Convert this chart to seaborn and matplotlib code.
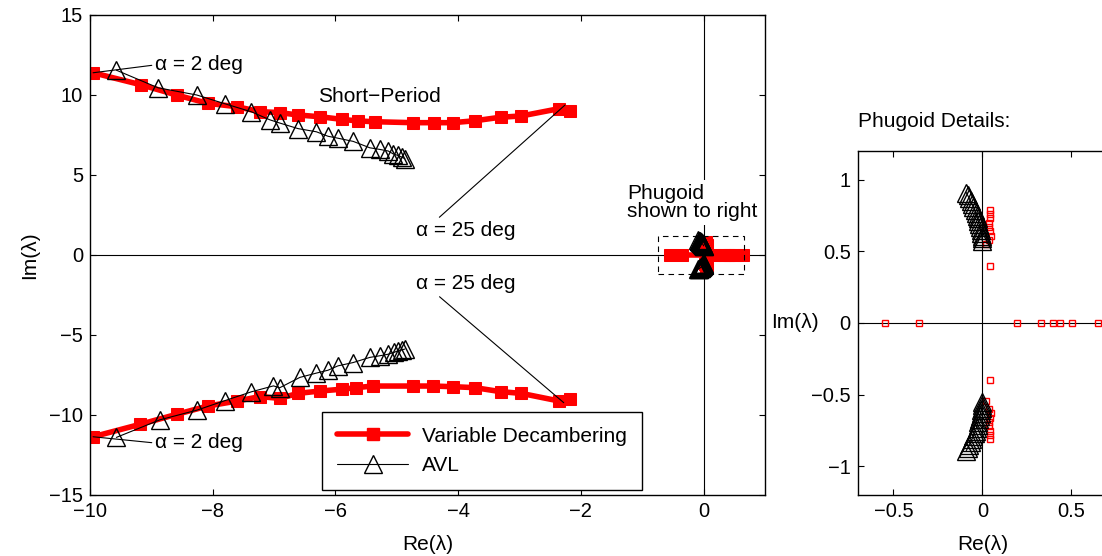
import numpy as np
import pandas as pd
import matplotlib
matplotlib.use("Agg")
import matplotlib.pyplot as plt
import matplotlib.patches as patches
from matplotlib.lines import Line2D
import seaborn as sns

# short-period roots, Variable Decambering (upper / lower branch)
vd_re_up = [-9.95, -9.17, -8.59, -8.08, -7.61, -7.23, -6.91, -6.61, -6.25, -5.90,
            -5.64, -5.36, -4.74, -4.40, -4.09, -3.73, -3.31, -2.97, -2.35, -2.18]
vd_im_up = [11.39, 10.64, 10.00, 9.48, 9.27, 8.96, 8.90, 8.75, 8.64, 8.48,
            8.38, 8.33, 8.27, 8.27, 8.27, 8.39, 8.61, 8.69, 9.15, 9.02]
vd_re_lo = [-9.95, -9.18, -8.59, -8.08, -7.61, -7.23, -6.91, -6.61, -6.25, -5.90,
            -5.66, -5.39, -4.74, -4.41, -4.09, -3.73, -3.31, -2.97, -2.35, -2.18]
vd_im_lo = [-11.36, -10.58, -9.96, -9.44, -9.13, -8.85, -8.96, -8.65, -8.50, -8.39,
            -8.29, -8.19, -8.19, -8.19, -8.23, -8.29, -8.54, -8.65, -9.13, -9.02]

# short-period roots, AVL
avl_re_up = [-9.57, -8.89, -8.26, -7.80, -7.37, -7.07, -6.91, -6.61, -6.31, -6.12,
             -5.96, -5.71, -5.44, -5.28, -5.14, -5.06, -4.98, -4.92, -4.87]
avl_im_up = [11.55, 10.45, 10.00, 9.45, 8.95, 8.45, 8.25, 7.90, 7.70, 7.42,
             7.30, 7.10, 6.70, 6.60, 6.50, 6.32, 6.22, 6.12, 6.02]
avl_re_lo = [-9.57, -8.86, -8.26, -7.80, -7.37, -7.01, -6.91, -6.58, -6.31, -6.12,
             -5.96, -5.71, -5.44, -5.28, -5.14, -5.04, -4.98, -4.92, -4.87]
avl_im_lo = [-11.40, -10.30, -9.70, -9.10, -8.55, -8.18, -8.30, -7.65, -7.38, -7.20,
             -6.93, -6.72, -6.40, -6.30, -6.20, -6.08, -5.98, -5.93, -5.88]

# phugoid roots, Variable Decambering
ph_vd_real = [-0.549, -0.356, 0.193, 0.331, 0.397, 0.434, 0.504, 0.649]
ph_vd_c_re = [0.041, 0.020, 0.036, 0.050, 0.042, 0.040, 0.040, 0.041, 0.042, 0.043]
ph_vd_c_up = [0.40, 0.55, 0.58, 0.61, 0.64, 0.67, 0.70, 0.73, 0.76, 0.79]
ph_vd_c_lo = [-0.40, -0.545, -0.60, -0.63, -0.66, -0.69, -0.72, -0.75, -0.78, -0.81]

# phugoid roots, AVL
ph_avl_re = [-0.090, -0.082, -0.074, -0.066, -0.058, -0.051, -0.044, -0.038, -0.032,
             -0.027, -0.022, -0.018, -0.014, -0.010, -0.007, -0.004, -0.002, 0.000]
ph_avl_up = [0.91, 0.89, 0.87, 0.85, 0.83, 0.81, 0.79, 0.77, 0.75,
             0.73, 0.71, 0.69, 0.67, 0.65, 0.63, 0.61, 0.59, 0.57]
ph_avl_lo = [-0.89, -0.87, -0.85, -0.83, -0.81, -0.79, -0.77, -0.75, -0.73,
             -0.71, -0.69, -0.67, -0.65, -0.63, -0.61, -0.59, -0.57, -0.55]

sns.set_theme(style="white")
plt.rcParams['font.family'] = ['Liberation Sans', 'DejaVu Sans']
plt.rcParams['font.size'] = 15
plt.rcParams['axes.labelsize'] = 15
plt.rcParams['legend.fontsize'] = 15
plt.rcParams['text.color'] = 'black'
plt.rcParams['axes.labelcolor'] = 'black'
plt.rcParams['axes.linewidth'] = 1.0
plt.rcParams['axes.edgecolor'] = 'black'

red = '#ff0000'
vd_kw = dict(color=red, linewidth=4, marker='s', markersize=9,
             markeredgecolor=red, markerfacecolor=red)
avl_kw = dict(color='black', linewidth=0.8, marker='^', markersize=12.5,
              markeredgecolor='black', markerfacecolor='none', markeredgewidth=1.0)


def line(ax, x, y, **kw):
    sns.lineplot(x=x, y=y, sort=False, estimator=None, ax=ax, legend=False, **kw)


fig = plt.figure(figsize=(11.02, 5.56), dpi=100)
ax = fig.add_axes([90 / 1102, 61 / 556, 675 / 1102, 480 / 556])
ax2 = fig.add_axes([857.7 / 1102, 61 / 556, 249.3 / 1102, 344 / 556])

for a in (ax, ax2):
    a.axhline(0, color='black', lw=0.8, zorder=1)
    a.axvline(0, color='black', lw=0.8, zorder=1)

# main plot
line(ax, vd_re_up, vd_im_up, **vd_kw)
line(ax, vd_re_lo, vd_im_lo, **vd_kw)
line(ax, ph_vd_real, [0] * len(ph_vd_real), **vd_kw)
line(ax, ph_vd_c_re, ph_vd_c_up, **vd_kw)
line(ax, ph_vd_c_re, ph_vd_c_lo, **vd_kw)
line(ax, avl_re_up, avl_im_up, **avl_kw)
line(ax, avl_re_lo, avl_im_lo, **avl_kw)
line(ax, ph_avl_re, ph_avl_up, **avl_kw)
line(ax, ph_avl_re, ph_avl_lo, **avl_kw)

ax.set_xlim(-10, 1)
ax.set_ylim(-15, 15)
ax.set_xticks([-10, -8, -6, -4, -2, 0])
ax.set_yticks([-15, -10, -5, 0, 5, 10, 15])
ax.set_xlabel('Re(λ)', va='center', fontsize=15)
ax.xaxis.set_label_coords(0.5, -0.104)
ax.set_ylabel('Im(λ)', va='center', fontsize=15)
ax.yaxis.set_label_coords(-0.089, 0.5)

line_kw = dict(arrowstyle='-', color='black', lw=0.8, shrinkA=0, shrinkB=0)
ax.annotate('α = 2 deg', xy=(-9.95, 11.39), xytext=(-8.94, 11.88), ha='left', va='center',
            arrowprops=dict(relpos=(0, 0.5), **line_kw))
ax.annotate('α = 2 deg', xy=(-9.95, -11.36), xytext=(-8.94, -11.75), ha='left', va='center',
            arrowprops=dict(relpos=(0, 0.5), **line_kw))
ax.annotate('α = 25 deg', xy=(-2.26, 9.37), xytext=(-3.88, 1.56), ha='center', va='center',
            arrowprops=dict(relpos=(0.2, 1.0), **line_kw))
ax.annotate('α = 25 deg', xy=(-2.28, -9.23), xytext=(-3.88, -1.81), ha='center', va='center',
            arrowprops=dict(relpos=(0.2, 0.0), **line_kw))
ax.text(-6.29, 9.9, 'Short\u2212Period', ha='left', va='center')
ax.text(-1.25, 3.28, 'Phugoid\nshown to right', ha='left', va='center', linespacing=0.92,
        zorder=5, clip_on=False,
        bbox=dict(facecolor='white', edgecolor='none', pad=3))
ax.add_patch(patches.Rectangle((-0.75, -1.2), 1.4, 2.4, fill=False, ls=(0, (5, 4)),
                               lw=0.8, edgecolor='black', zorder=4))

handles = [Line2D([], [], **vd_kw), Line2D([], [], **avl_kw)]
leg = ax.legend(handles, ['Variable Decambering', 'AVL'], loc='lower left',
                bbox_to_anchor=(0.344, 0.0104), borderaxespad=0, fancybox=False,
                framealpha=1, edgecolor='black', handlelength=3.4, handletextpad=0.67,
                labelspacing=0.5, borderpad=0.72, fontsize=15)
leg.get_frame().set_linewidth(1.0)

# phugoid detail plot
det_kw = dict(color=red, linewidth=0, marker='s', markersize=5,
              markeredgecolor=red, markerfacecolor='none', markeredgewidth=1.0)
line(ax2, ph_vd_real, [0] * len(ph_vd_real), **det_kw)
line(ax2, ph_vd_c_re, ph_vd_c_up, **det_kw)
line(ax2, ph_vd_c_re, ph_vd_c_lo, **det_kw)
line(ax2, ph_avl_re, ph_avl_up, **avl_kw)
line(ax2, ph_avl_re, ph_avl_lo, **avl_kw)

ax2.set_xlim(-0.7, 0.7)
ax2.set_ylim(-1.2, 1.2)
ax2.set_xticks([-0.5, 0, 0.5])
ax2.set_yticks([-1, -0.5, 0, 0.5, 1])
ax2.set_xticklabels(['\u22120.5', '0', '0.5'])
ax2.set_yticklabels(['\u22121', '\u22120.5', '0', '0.5', '1'])
ax2.set_xlabel('Re(λ)', va='center', fontsize=15)
ax2.xaxis.set_label_coords(0.5, -0.145)
ax2.set_ylabel('Im(λ)', rotation=0, ha='right', va='center', fontsize=15)
ax2.yaxis.set_label_coords(-0.155, 0.5)
ax2.text(0, 1.087, 'Phugoid Details:', transform=ax2.transAxes, ha='left', va='center')

for a in (ax, ax2):
    a.tick_params(direction='in', length=4, width=0.8, top=True, right=True,
                  bottom=True, left=True, colors='black', labelsize=14.5, pad=5)
    for s in a.spines.values():
        s.set_visible(True)
        s.set_color('black')
ax2.tick_params(right=False)

fig.savefig('out.png', dpi=100)
